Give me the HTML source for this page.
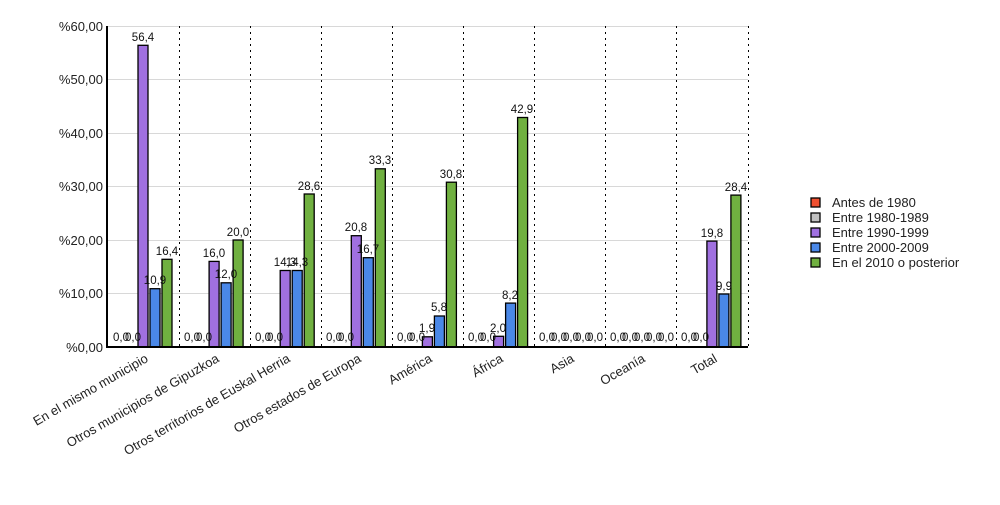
<!DOCTYPE html>
<html><head><meta charset="utf-8"><style>
body{margin:0;background:#fff;}
svg{font-family:"Liberation Sans",sans-serif;}
</style></head><body>
<svg width="1000" height="500" viewBox="0 0 1000 500" xmlns="http://www.w3.org/2000/svg">
<g stroke="#d8d8d8" stroke-width="1">
<line x1="108" y1="26.5" x2="748" y2="26.5"/><line x1="108" y1="79.5" x2="748" y2="79.5"/><line x1="108" y1="133.5" x2="748" y2="133.5"/><line x1="108" y1="186.5" x2="748" y2="186.5"/><line x1="108" y1="240.5" x2="748" y2="240.5"/><line x1="108" y1="293.5" x2="748" y2="293.5"/>
</g>
<g stroke="#000" stroke-width="1" stroke-dasharray="2,4">
<line x1="179.5" y1="26" x2="179.5" y2="347"/><line x1="250.5" y1="26" x2="250.5" y2="347"/><line x1="321.5" y1="26" x2="321.5" y2="347"/><line x1="392.5" y1="26" x2="392.5" y2="347"/><line x1="463.5" y1="26" x2="463.5" y2="347"/><line x1="534.5" y1="26" x2="534.5" y2="347"/><line x1="605.5" y1="26" x2="605.5" y2="347"/><line x1="676.5" y1="26" x2="676.5" y2="347"/><line x1="748.5" y1="26" x2="748.5" y2="347"/>
</g>
<g font-size="13" fill="#222" text-anchor="end">
<text x="103" y="31">%60,00</text><text x="103" y="84">%50,00</text><text x="103" y="138">%40,00</text><text x="103" y="191">%30,00</text><text x="103" y="245">%20,00</text><text x="103" y="298">%10,00</text><text x="103" y="352">%0,00</text>
</g>
<g stroke="#000" stroke-width="1.3">
<g fill="#a070e0">
<rect x="138" y="45.3" width="10" height="301.7"/><rect x="209.1" y="261.4" width="10" height="85.6"/><rect x="280.2" y="270.5" width="10" height="76.5"/><rect x="351.3" y="235.7" width="10" height="111.3"/><rect x="422.4" y="336.8" width="10" height="10.2"/><rect x="493.6" y="336.3" width="10" height="10.7"/><rect x="706.9" y="241.1" width="10" height="105.9"/>
</g>
<g fill="#4a88e8">
<rect x="150" y="288.7" width="10" height="58.3"/><rect x="221.1" y="282.8" width="10" height="64.2"/><rect x="292.2" y="270.5" width="10" height="76.5"/><rect x="363.3" y="257.7" width="10" height="89.3"/><rect x="434.4" y="316" width="10" height="31"/><rect x="505.6" y="303.1" width="10" height="43.9"/><rect x="718.9" y="294" width="10" height="53"/>
</g>
<g fill="#70b040">
<rect x="162" y="259.3" width="10" height="87.7"/><rect x="233.1" y="240" width="10" height="107"/><rect x="304.2" y="194" width="10" height="153"/><rect x="375.3" y="168.8" width="10" height="178.2"/><rect x="446.4" y="182.2" width="10" height="164.8"/><rect x="517.6" y="117.5" width="10" height="229.5"/><rect x="730.9" y="195.1" width="10" height="151.9"/>
</g>
</g>
<line x1="107" y1="26" x2="107" y2="348" stroke="#000" stroke-width="2"/>
<line x1="106" y1="347" x2="748" y2="347" stroke="#000" stroke-width="2"/>
<g font-size="11.5" fill="#111" text-anchor="middle">
<text x="143" y="41">56,4</text><text x="155" y="284">10,9</text><text x="167" y="255">16,4</text>
<text x="214" y="257">16,0</text><text x="226" y="278">12,0</text><text x="238" y="236">20,0</text>
<text x="285" y="266">14,3</text><text x="297" y="266">14,3</text><text x="309" y="190">28,6</text>
<text x="356" y="231">20,8</text><text x="368" y="253">16,7</text><text x="380" y="164">33,3</text>
<text x="427" y="332">1,9</text><text x="439" y="311">5,8</text><text x="451" y="178">30,8</text>
<text x="498" y="332">2,0</text><text x="510" y="299">8,2</text><text x="522" y="113">42,9</text>
<text x="712" y="237">19,8</text><text x="724" y="290">9,9</text><text x="736" y="191">28,4</text>
<text x="121" y="341">0,0</text><text x="133" y="341">0,0</text>
<text x="192" y="341">0,0</text><text x="204" y="341">0,0</text>
<text x="263" y="341">0,0</text><text x="275" y="341">0,0</text>
<text x="334" y="341">0,0</text><text x="346" y="341">0,0</text>
<text x="405" y="341">0,0</text><text x="417" y="341">0,0</text>
<text x="476" y="341">0,0</text><text x="488" y="341">0,0</text>
<text x="547" y="341">0,0</text><text x="559" y="341">0,0</text><text x="571" y="341">0,0</text><text x="583" y="341">0,0</text><text x="595" y="341">0,0</text>
<text x="618" y="341">0,0</text><text x="630" y="341">0,0</text><text x="642" y="341">0,0</text><text x="654" y="341">0,0</text><text x="666" y="341">0,0</text>
<text x="689" y="341">0,0</text><text x="701" y="341">0,0</text>
</g>
<g font-size="13" fill="#222" text-anchor="end">
<text transform="translate(149,361) rotate(-30)">En el mismo municipio</text>
<text transform="translate(220,361) rotate(-30)">Otros municipios de Gipuzkoa</text>
<text transform="translate(291,361) rotate(-30)">Otros territorios de Euskal Herria</text>
<text transform="translate(362,361) rotate(-30)">Otros estados de Europa</text>
<text transform="translate(433,361) rotate(-30)">América</text>
<text transform="translate(504,361) rotate(-30)">África</text>
<text transform="translate(575,361) rotate(-30)">Asia</text>
<text transform="translate(646,361) rotate(-30)">Oceanía</text>
<text transform="translate(718,361) rotate(-30)">Total</text>
</g>
<g stroke="#000" stroke-width="1.3">
<rect x="811" y="198" width="9" height="9" fill="#f05030"/>
<rect x="811" y="213" width="9" height="9" fill="#c0c0c0"/>
<rect x="811" y="228" width="9" height="9" fill="#a070e0"/>
<rect x="811" y="243" width="9" height="9" fill="#4a88e8"/>
<rect x="811" y="258" width="9" height="9" fill="#70b040"/>
</g>
<g font-size="13" fill="#222">
<text x="832" y="207">Antes de 1980</text>
<text x="832" y="222">Entre 1980-1989</text>
<text x="832" y="237">Entre 1990-1999</text>
<text x="832" y="252">Entre 2000-2009</text>
<text x="832" y="267">En el 2010 o posterior</text>
</g>
</svg>
</body></html>
